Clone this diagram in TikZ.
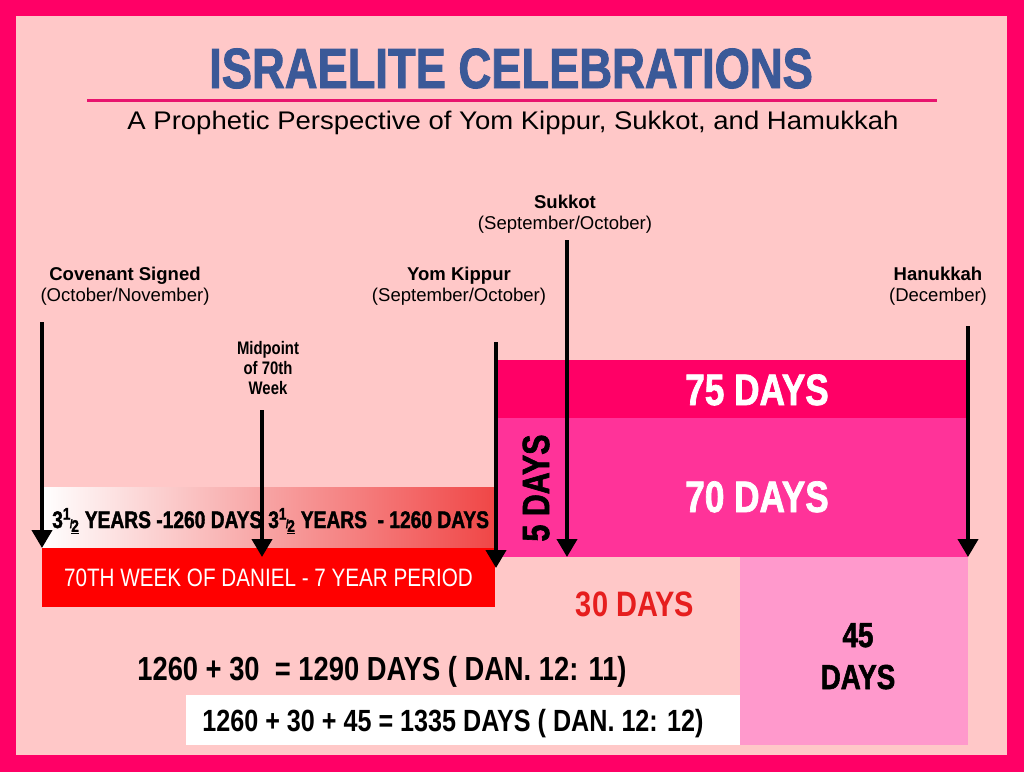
\documentclass[tikz,border=0pt]{standalone}
\usepackage{fontspec}
\setmainfont{Liberation Sans}
\newfontfamily\condfont[FakeStretch=0.82]{Liberation Sans}
\newfontfamily\heavyfont[UprightFont=* Bold,FakeStretch=0.8,FakeBold=1.6]{Liberation Sans}
\newfontfamily\widefont[FakeStretch=1.08]{Liberation Sans}
\usetikzlibrary{arrows.meta}
\definecolor{frame}{RGB}{255,0,102}
\definecolor{paper}{RGB}{255,200,200}
\definecolor{titleblue}{RGB}{59,89,152}
\definecolor{rulepink}{RGB}{232,20,110}
\definecolor{bar75}{RGB}{255,0,102}
\definecolor{bar70}{RGB}{255,51,153}
\definecolor{bar45}{RGB}{255,153,204}
\definecolor{weekred}{RGB}{255,0,0}
\definecolor{gradred}{RGB}{240,70,70}
\definecolor{thirtyred}{RGB}{230,30,30}
\newcommand\threehalf{3\textsuperscript{1}\kern-0.05em{\small/}\kern-0.05em\textsubscript{\underline{2}}}

\begin{document}
\begin{tikzpicture}[x=0.75pt,y=-0.75pt,
  box/.style={inner sep=0pt,outer sep=0pt,anchor=north west},
  arr/.style={line width=3pt,-{Triangle[width=15pt,length=13.5pt]}},
  lbl/.style={align=center,inner sep=0pt,anchor=base,font=\fontsize{13.9pt}{15.75pt}\selectfont},
  bold/.style={inner sep=0pt,anchor=base,font=\condfont\bfseries\fontsize{#1}{#1}\selectfont},
  heavy/.style={inner sep=0pt,anchor=base,font=\heavyfont\fontsize{#1}{#1}\selectfont}]
  % frame and paper
  \fill[frame] (0,0) rectangle (1024,772);
  \fill[paper] (16,16) rectangle (1007,755);

  % heading
  \node[heavy=42.5pt,text=titleblue] (title) at (511,88) {ISRAELITE CELEBRATIONS};
  \draw[rulepink,line width=2.25pt] (87,100) -- (937,100);
  \node[inner sep=0pt,anchor=base,font=\widefont\fontsize{19.1pt}{20pt}\selectfont] (sub) at (513,129)
    {A Prophetic Perspective of Yom Kippur, Sukkot, and Hamukkah};

  % feast labels (anchor at last line)
  \node[lbl] (cov) at (125,301) {\textbf{Covenant Signed}\\(October/November)};
  \node[lbl] (yom) at (459,301) {\textbf{Yom Kippur}\\(September/October)};
  \node[lbl] (suk) at (565,229) {\textbf{Sukkot}\\(September/October)};
  \node[lbl] (han) at (938,301) {\textbf{Hanukkah}\\(December)};
  \node[bold=13.6pt,align=center,font=\condfont\bfseries\fontsize{13.6pt}{15pt}\selectfont] (mid) at (268,394) {Midpoint\\of 70th\\Week};

  % periods
  \node[box,fill=bar75,minimum width=471*0.75pt,minimum height=58*0.75pt] (d75) at (497,360) {};
  \node[box,fill=bar70,minimum width=471*0.75pt,minimum height=139*0.75pt] (d70) at (497,418) {};
  \node[box,fill=bar45,minimum width=228*0.75pt,minimum height=188*0.75pt] (d45) at (740,557) {};
  \node[box,fill=white,minimum width=554*0.75pt,minimum height=50*0.75pt] (sumbox) at (186,695) {};
  \node[box,left color=white,right color=gradred,minimum width=453*0.75pt,minimum height=61*0.75pt] (halves) at (42,487) {};
  \node[box,fill=weekred,minimum width=453*0.75pt,minimum height=59*0.75pt,text=white,
    font=\condfont\fontsize{18.9pt}{20pt}\selectfont] (week) at (42,548) {70TH WEEK OF DANIEL - 7 YEAR PERIOD};

  \node[heavy=18pt,anchor=base west] (h1) at (52,528) {\threehalf{} YEARS -1260 DAYS};
  \node[heavy=18pt,anchor=base west] (h2) at (268,528) {\threehalf{} YEARS \ - 1260 DAYS};
  \node[heavy=33pt,text=white] (t75) at (757,405) {75 DAYS};
  \node[heavy=33pt,text=white] (t70) at (757,512) {70 DAYS};
  \node[heavy=28.5pt,anchor=center,rotate=90] (t5) at (536,488) {5 DAYS};
  \node[bold=26.5pt,text=thirtyred] (t30) at (635,616) {30 DAYS};
  \node[heavy=26pt,align=center,font=\heavyfont\fontsize{26pt}{31.5pt}\selectfont] (t45) at (858,689) {45\\DAYS};
  \node[bold=25pt] (sum1) at (382,680) {1260 + 30 \ = 1290 DAYS ( DAN. 12: 11)};
  \node[bold=23pt] (sum2) at (453,731) {1260 + 30 + 45 = 1335 DAYS ( DAN. 12: 12)};

  % arrows
  \coordinate (covtop) at (42,322);
  \coordinate (midtop) at (262,410);
  \coordinate (midtip) at (262,557);
  \coordinate (yomtop) at (496,342);
  \coordinate (yomtip) at (496,568);
  \coordinate (suktop) at (567,240);
  \coordinate (hantop) at (968,326);
  \draw[arr] (covtop) -- (week.north west);
  \draw[arr] (midtop) -- (midtip);
  \draw[arr] (yomtop) -- (yomtip);
  \draw[arr] (suktop) -- (suktop |- d70.south);
  \draw[arr] (hantop) -- (d70.south east);
\end{tikzpicture}
\end{document}
